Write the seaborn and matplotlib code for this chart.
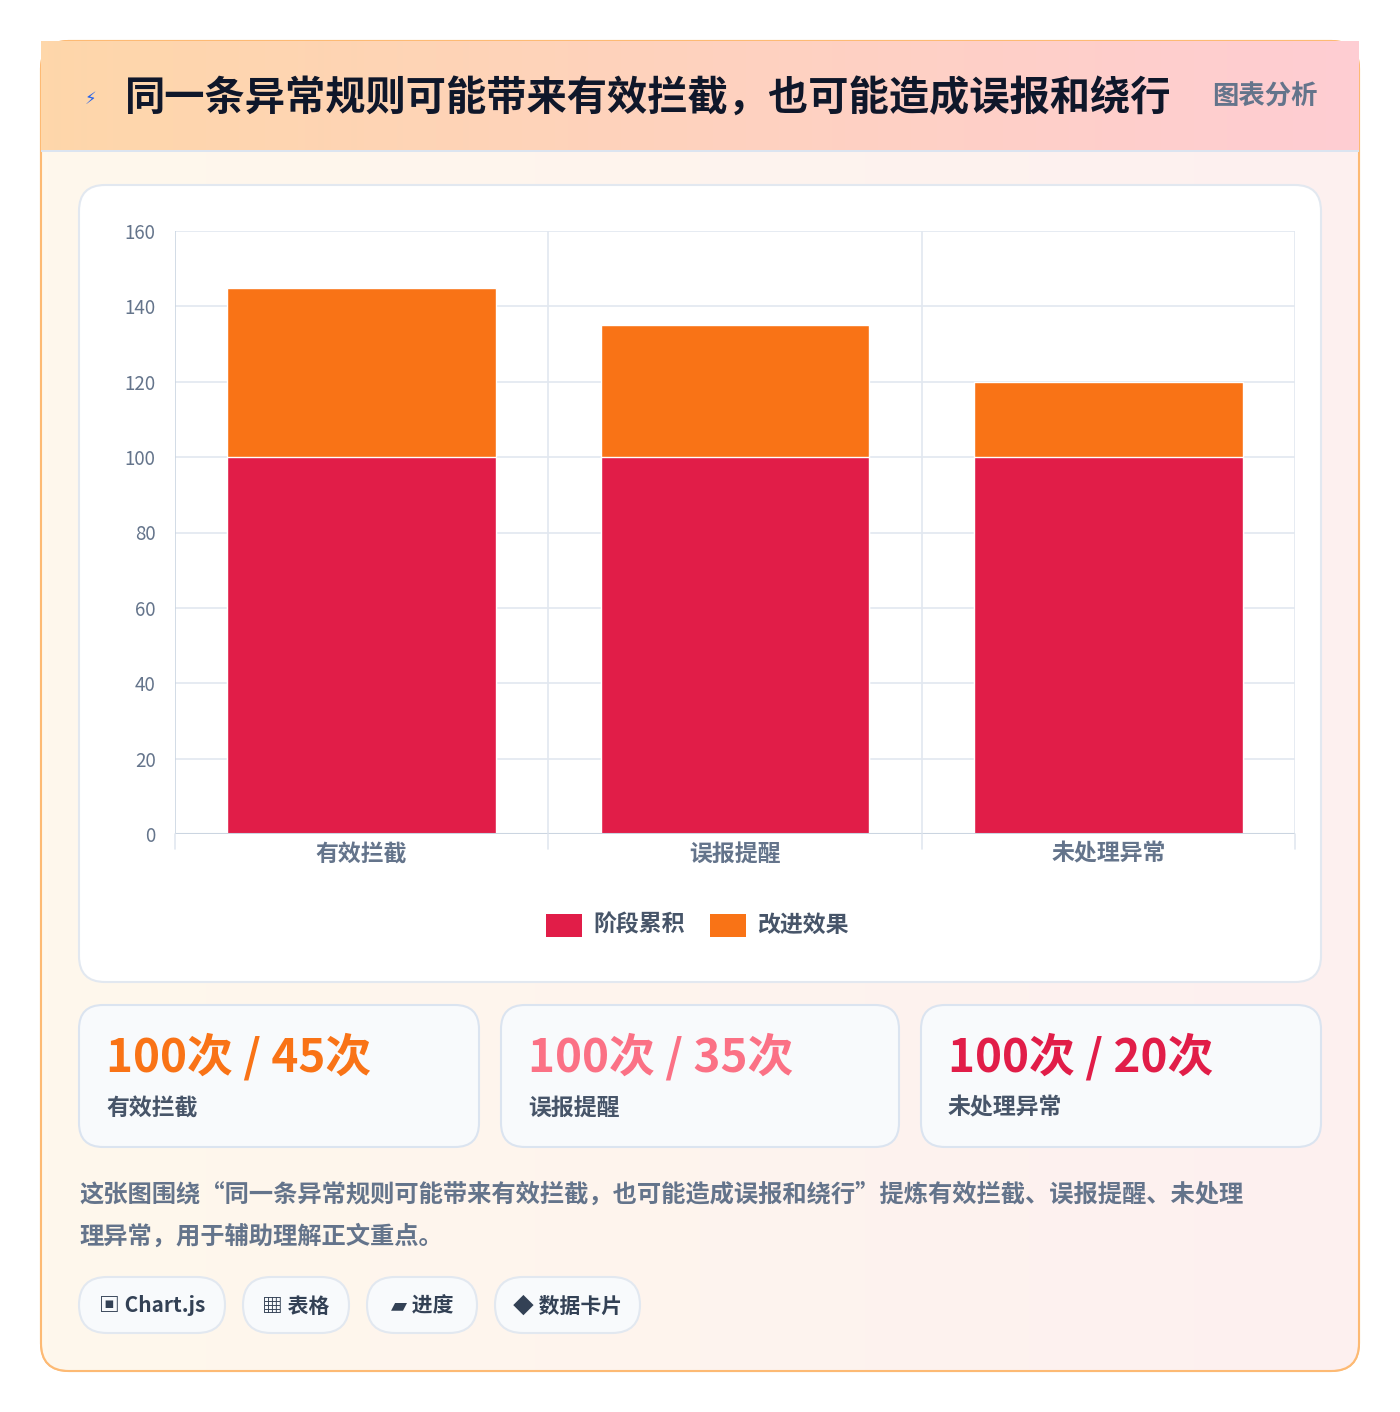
import matplotlib
matplotlib.use('Agg')
import matplotlib.pyplot as plt
from matplotlib.patches import FancyBboxPatch, Rectangle
import numpy as np
import pandas as pd
import seaborn as sns

categories = ['有效拦截', '误报提醒', '未处理异常']
stage_values = [100, 100, 100]
improve_values = [45, 35, 20]
series_names = ['阶段累积', '改进效果']
stat_labels = ['100次 / 45次', '100次 / 35次', '100次 / 20次']
stat_colors = ['#f97316', '#fb7185', '#e11d48']
tags = ['▣ Chart.js', '▦ 表格', '▰ 进度', '◆ 数据卡片']

RED = '#e11d48'
ORANGE = '#f97316'
W, H = 1400, 1412

sns.set_theme(style='whitegrid')
plt.rcParams['font.family'] = ['Noto Sans CJK SC', 'DejaVu Sans']

fig = plt.figure(figsize=(W / 100, H / 100), dpi=100)
fig.patch.set_facecolor('white')


def fx(x):
    return x / W


def fy(y):
    return 1 - y / H


def box(x0, y0, x1, y1, r, fc, ec, lw=1.5, z=1):
    p = FancyBboxPatch((fx(x0), fy(y1)), fx(x1 - x0), (y1 - y0) / H,
                       boxstyle='round,pad=0,rounding_size=%f' % (r / W),
                       transform=fig.transFigure, fc=fc, ec=ec, lw=lw,
                       zorder=z, mutation_aspect=W / H)
    fig.add_artist(p)
    return p


def grad(x0, y0, x1, y1, c0, c1, z, clip=None):
    ax = fig.add_axes([fx(x0), fy(y1), fx(x1 - x0), (y1 - y0) / H], zorder=z)
    ax.axis('off')
    c0 = np.array(matplotlib.colors.to_rgb(c0))
    c1 = np.array(matplotlib.colors.to_rgb(c1))
    t = np.linspace(0, 1, 200)
    img = (c0[None, :] * (1 - t[:, None]) + c1[None, :] * t[:, None])[None]
    im = ax.imshow(img, aspect='auto', extent=[0, 1, 0, 1])
    if clip is not None:
        im.set_clip_path(clip)
    return ax


# outer card
outer = box(41, 41, 1359, 1371, 28, '#fff7ef', '#fdba74', 1.5, z=0)
grad(41, 41, 1359, 1371, '#fff8ec', '#fdf0f0', 0.1, clip=outer)
outer2 = box(41, 41, 1359, 1371, 28, 'none', '#fdba74', 1.5, z=0.2)
# header
head = box(41, 41, 1359, 151, 28, 'none', 'none', 0, z=0.3)
hax = grad(41, 41, 1359, 151, '#fed7aa', '#fecdd3', 0.3)
fig.add_artist(Rectangle((fx(41), fy(152)), fx(1318), 2 / H, transform=fig.transFigure,
                         fc='#dbe4f0', ec='none', zorder=0.4))
fig.text(fx(85), fy(100), '⚡', color='#2563eb', fontsize=12, va='center', zorder=5)
fig.text(fx(125), fy(98), '同一条异常规则可能带来有效拦截，也可能造成误报和绕行',
         fontsize=29, fontweight='bold', color='#0f172a', va='center', zorder=5)
fig.text(fx(1318), fy(97), '图表分析', fontsize=19, fontweight='bold',
         color='#64748b', va='center', ha='right', zorder=5)

# chart card
box(79, 185, 1321, 982, 26, 'white', '#e2e8f0', 1.5, z=0.5)

df = pd.DataFrame({'cat': categories,
                   'total': [a + b for a, b in zip(stage_values, improve_values)],
                   'stage': stage_values})
ax = fig.add_axes([fx(175), fy(834), fx(1120), 603 / H], zorder=1)
ax.set_facecolor('none')
sns.barplot(data=df, x='cat', y='total', color=ORANGE, width=0.72, saturation=1, ax=ax)
sns.barplot(data=df, x='cat', y='stage', color=RED, width=0.72, saturation=1, ax=ax)
ax.set_ylim(0, 160)
ax.set_xlim(-0.5, 2.5)
ax.set_yticks(range(0, 161, 20))
ax.set_xlabel('')
ax.set_ylabel('')
ax.grid(True, axis='y', color='#e2e8f0', lw=1.2)
ax.grid(False, axis='x')
for xv in [0.5, 1.5, 2.5]:
    ax.axvline(xv, color='#e2e8f0', lw=1.2, zorder=0)
ax.axvline(-0.5, color='#cbd5e1', lw=1.2)
for s in ax.spines.values():
    s.set_visible(False)
ax.axhline(0, color='#cbd5e1', lw=1.5)
ax.tick_params(axis='y', labelsize=13.5, colors='#64748b', length=8, color='#cbd5e1', pad=6)
ax.tick_params(axis='x', labelsize=16.5, colors='#64748b', length=14, color='#e2e8f0', pad=6)
for lb in ax.get_xticklabels():
    lb.set_fontweight('bold')
ax.set_xticks([-0.5, 0, 0.5, 1, 1.5, 2, 2.5])
ax.set_xticklabels(['', categories[0], '', categories[1], '', categories[2], ''],
                   fontweight='bold')
ax.tick_params(axis='x', length=0)
for xv in [-0.5, 0.5, 1.5, 2.5]:
    ax.plot([xv, xv], [0, -4], color='#e2e8f0', lw=1.2, clip_on=False)

# legend
for i, (name, c) in enumerate(zip(series_names, [RED, ORANGE])):
    x0 = 546 + i * 164
    fig.add_artist(Rectangle((fx(x0), fy(937)), fx(36), 23 / H, transform=fig.transFigure,
                             fc=c, ec='none', zorder=2))
    fig.text(fx(x0 + 47), fy(925), name, fontsize=16.5, fontweight='bold',
             color='#475569', va='center', zorder=2)

# stat cards
for i, (lab, c, cat) in enumerate(zip(stat_labels, stat_colors, categories)):
    x0 = [79, 501, 921][i]
    x1 = [479, 899, 1321][i]
    box(x0, 1005, x1, 1147, 24, '#f8fafc', '#dbe4f0', 1.5, z=0.5)
    fig.text(fx(x0 + 27), fy(1058), lab, fontsize=33, fontweight='heavy',
             color=c, va='center', zorder=2)
    fig.text(fx(x0 + 27), fy(1108), cat, fontsize=16.5, fontweight='bold',
             color='#475569', va='center', zorder=2)

# description
fig.text(fx(79), fy(1195), '这张图围绕“同一条异常规则可能带来有效拦截，也可能造成误报和绕行”提炼有效拦截、误报提醒、未处理',
         fontsize=17.5, fontweight='bold', color='#64748b', va='center', zorder=2)
fig.text(fx(79), fy(1237), '理异常，用于辅助理解正文重点。',
         fontsize=17.5, fontweight='bold', color='#64748b', va='center', zorder=2)

# tags
tag_x = [(79, 225), (243, 349), (367, 477), (495, 640)]
for t, (x0, x1) in zip(tags, tag_x):
    box(x0, 1277, x1, 1333, 28, '#f8fafc', '#e2e8f0', 1.5, z=0.5)
    fig.text(fx((x0 + x1) / 2), fy(1306), t, fontsize=15, fontweight='bold',
             color='#334155', va='center', ha='center', zorder=2)

fig.savefig('out.png', dpi=100, facecolor='white')
